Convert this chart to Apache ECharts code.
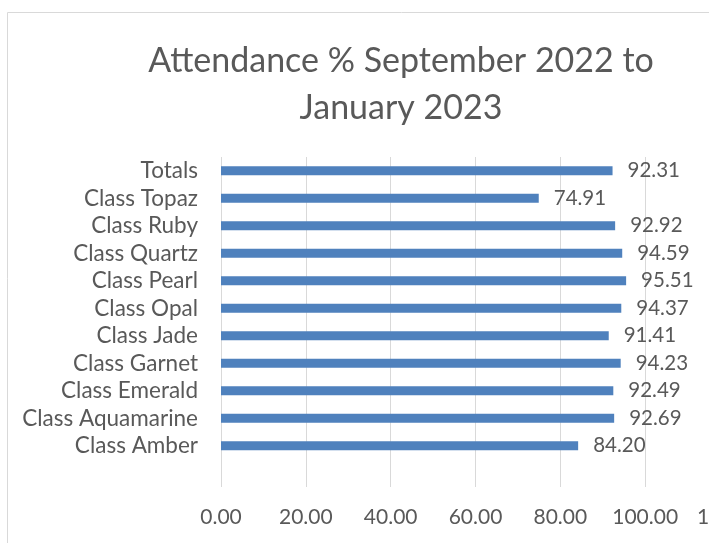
<!DOCTYPE html>
<html>
<head>
<meta charset="utf-8">
<script src="https://cdn.jsdelivr.net/npm/echarts@6/dist/echarts.min.js"></script>
<style>
  html, body { margin: 0; padding: 0; overflow: hidden; background: #fff; }
  #chart { width: 802px; height: 543px; }
</style>
</head>
<body>
<div id="chart"></div>
<script>
  // categories bottom -> top (first one is the empty row under Class Amber)
  var classes = ['', 'Class Amber', 'Class Aquamarine', 'Class Emerald', 'Class Garnet', 'Class Jade',
    'Class Opal', 'Class Pearl', 'Class Quartz', 'Class Ruby', 'Class Topaz', 'Totals'];
  var attendance = [null, 84.20, 92.69, 92.49, 94.23, 91.41, 94.37, 95.51, 94.59, 92.92, 74.91, 92.31];
  var xTicks = { min: 0, max: 120, step: 20 };

  var textColor = '#595959';
  var font = 'Lato';

  var myChart = echarts.init(document.getElementById('chart'));
  var option = {
    animation: false,
    title: {
      text: 'Attendance % September 2022 to\nJanuary 2023',
      left: 'center',
      top: 33,
      textStyle: {
        color: textColor,
        fontFamily: font,
        fontWeight: 'normal',
        fontSize: 34,
        lineHeight: 47
      }
    },
    graphic: [{
      type: 'rect',
      shape: { x: 7.5, y: 12.5, width: 788, height: 600 },
      style: { fill: 'none', stroke: '#d9d9d9', lineWidth: 1 },
      silent: true
    }],
    grid: {
      left: 221,
      top: 157,
      width: 509,
      height: 330,
      containLabel: false
    },
    xAxis: {
      type: 'value',
      min: xTicks.min,
      max: xTicks.max,
      interval: xTicks.step,
      axisLine: { show: false },
      axisTick: { show: false },
      splitLine: { show: true, lineStyle: { color: '#d9d9d9', width: 1 } },
      axisLabel: {
        color: textColor,
        fontFamily: font,
        fontSize: 21,
        margin: 20,
        formatter: function (v) { return v.toFixed(2); }
      }
    },
    yAxis: {
      type: 'category',
      data: classes,
      axisLine: { show: false },
      axisTick: { show: false },
      axisLabel: {
        interval: 0,
        color: textColor,
        fontFamily: font,
        fontSize: 22.5,
        margin: 23
      }
    },
    series: [{
      type: 'bar',
      data: attendance,
      barWidth: 9,
      itemStyle: { color: '#4f81bd' },
      label: {
        show: true,
        position: 'right',
        distance: 15,
        color: textColor,
        fontFamily: font,
        fontSize: 20.5,
        formatter: function (p) { return p.value == null ? '' : p.value.toFixed(2); }
      }
    }]
  };
  myChart.setOption(option);
</script>
</body>
</html>
